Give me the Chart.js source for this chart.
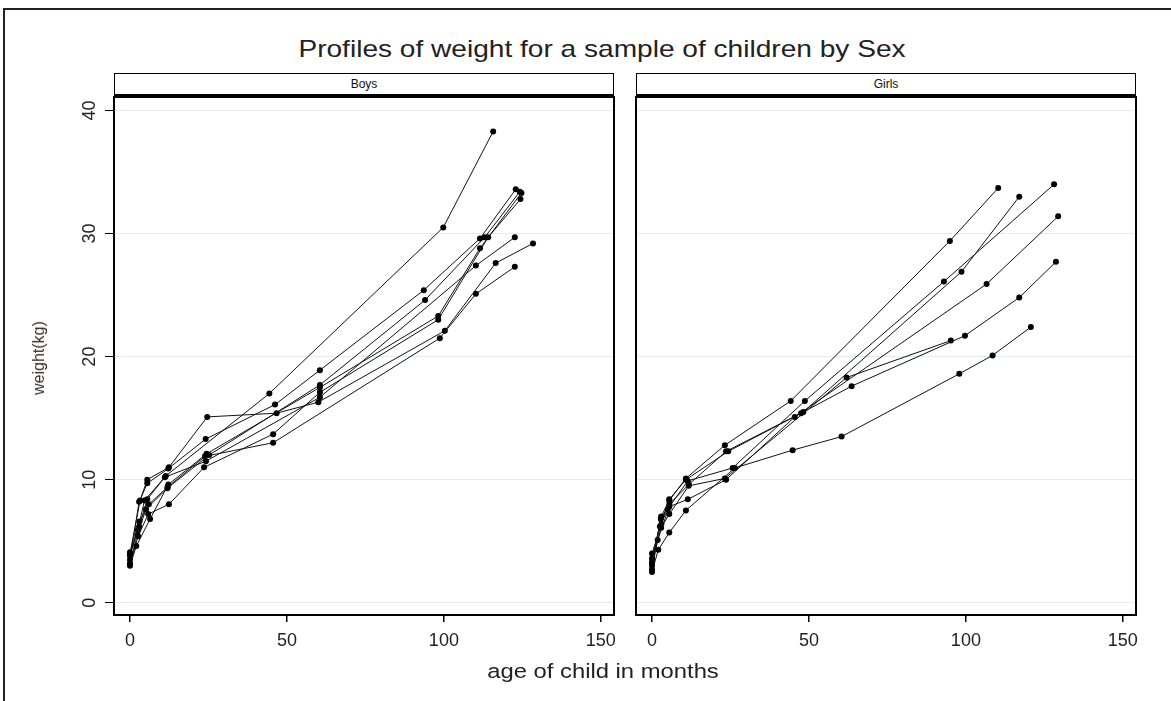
<!DOCTYPE html>
<html>
<head>
<meta charset="utf-8">
<title>Profiles of weight</title>
<script src="https://cdn.jsdelivr.net/npm/chart.js@4.4.1/dist/chart.umd.min.js"></script>
<style>
  body { margin: 0; background: #fff; font-family: "Liberation Sans", Arial, sans-serif; }
  #page { position: relative; width: 1171px; height: 701px; overflow: hidden; }
  #frame { position: absolute; left: 3px; top: 8px; width: 1300px; height: 800px;
           border-left: 2px solid #222; border-top: 2px solid #222; }
  #title { position: absolute; left: 0; width: 1204px; top: 35px; text-align: center;
           font-size: 24px; color: #222; transform: scaleX(1.17); }
  .strip { position: absolute; top: 73px; height: 25px; box-sizing: border-box;
           border: 1.5px solid #000; border-bottom: 4px solid #000;
           font-size: 12px; line-height: 21px; text-align: center; color: #111; }
  #xlab { position: absolute; left: 0; width: 1206px; top: 660px; text-align: center;
          font-size: 20px; color: #222; transform: scaleX(1.19); }
  #ylab { position: absolute; left: 39px; top: 358px; font-size: 16px; color: #3a2e2e;
          transform: translate(-50%, -50%) rotate(-90deg); white-space: nowrap; }
  canvas { position: absolute; }
</style>
</head>
<body>
<div id="page">
  <div id="frame"></div>
  <div id="title">Profiles of weight for a sample of children by Sex</div>
  <div class="strip" style="left:114px;width:500px">Boys</div>
  <div class="strip" style="left:636px;width:500px">Girls</div>
  <canvas id="boys" width="620" height="611" style="left:0;top:90px"></canvas>
  <canvas id="girls" width="549" height="611" style="left:622px;top:90px"></canvas>
  <div id="xlab">age of child in months</div>
  <div id="ylab">weight(kg)</div>
</div>
<script>
// ages (months) and weights (kg) per child, one inner array per child
const boyAges = [
  [0, 2.9, 5.5, 11.4, 44.4, 99.8, 115.7],
  [0, 3.2, 5.5, 12.4, 24.6, 46.7, 60.0, 100.3, 116.5, 128.4],
  [0, 2.9, 5.5, 12.2, 24.1, 46.2, 60.5, 93.6, 111.5, 122.9],
  [0, 2.3, 5.1, 11.9, 25.2, 60.5, 94.0, 113.0, 124.2],
  [0, 2.0, 6.4, 12.2, 24.4, 60.5, 98.2, 111.5, 124.7],
  [0, 2.6, 5.8, 12.4, 23.6, 45.6, 60.5, 98.2, 114.1, 124.4],
  [0, 3.0, 6.0, 12.0, 23.9, 45.6, 98.7, 110.2, 122.6],
  [0, 2.5, 4.6, 11.1, 24.2, 60.5, 110.2, 122.6]
];
const boyWeights = [
  [3.9, 6.2, 8.4, 10.3, 17.0, 30.5, 38.3],
  [4.0, 8.3, 10.0, 11.0, 15.1, 15.4, 16.3, 22.1, 27.6, 29.2],
  [3.5, 8.2, 9.7, 10.9, 13.3, 16.1, 18.9, 25.4, 29.6, 33.6],
  [3.2, 5.5, 7.6, 9.3, 12.0, 17.7, 24.6, 29.7, 33.4],
  [3.0, 4.6, 6.8, 9.6, 12.1, 17.5, 23.3, 28.8, 33.3],
  [3.1, 5.4, 7.2, 8.0, 11.0, 13.7, 17.1, 23.0, 29.7, 32.8],
  [3.8, 6.6, 8.0, 9.4, 11.9, 13.0, 21.5, 25.1, 27.3],
  [4.1, 5.9, 8.3, 10.2, 11.5, 16.7, 27.4, 29.7]
];
const girlAges = [
  [0, 2.9, 5.5, 10.8, 23.2, 44.2, 94.9, 110.3],
  [0, 2.8, 5.5, 11.7, 23.6, 48.2, 98.6, 117.0],
  [0, 2.5, 5.0, 11.4, 25.7, 48.7, 93.0, 128.1],
  [0, 1.8, 5.5, 11.4, 23.6, 45.5, 106.6, 129.4],
  [0, 3.0, 5.5, 10.8, 24.3, 47.5, 63.6, 99.7, 117.0, 128.7],
  [0, 2.0, 5.5, 10.8, 26.4, 44.8, 60.4, 97.9, 108.5, 120.7],
  [0, 2.9, 5.5, 11.7, 23.2, 62.0, 95.2]
];
const girlWeights = [
  [3.2, 7.0, 8.3, 10.1, 12.8, 16.4, 29.4, 33.7],
  [3.0, 6.8, 8.0, 9.6, 12.3, 15.5, 26.9, 33.0],
  [3.6, 6.2, 7.6, 9.9, 10.95, 16.4, 26.1, 34.0],
  [2.7, 5.1, 7.8, 8.4, 10.0, 15.1, 25.9, 31.4],
  [4.0, 6.4, 8.4, 10.0, 12.3, 15.4, 17.6, 21.7, 24.8, 27.7],
  [2.5, 4.3, 5.7, 7.5, 10.95, 12.4, 13.5, 18.6, 20.1, 22.4],
  [3.3, 6.1, 7.2, 9.5, 10.1, 18.3, 21.3]
];
const xTicks = [0, 50, 100, 150];
const yTicks = [0, 10, 20, 30, 40];

Chart.defaults.font.family = '"Liberation Sans", Arial, sans-serif';

// black box round the plot region
const framePlugin = {
  id: 'frame',
  afterDraw(chart) {
    const { ctx, chartArea: a } = chart;
    ctx.save();
    ctx.strokeStyle = '#000';
    ctx.lineWidth = 2;
    ctx.strokeRect(a.left, a.top, a.right - a.left, a.bottom - a.top);
    ctx.restore();
  }
};

function makeDatasets(ages, weights) {
  return ages.map((a, i) => ({
    data: a.map((x, j) => ({ x: x, y: weights[i][j] })),
    borderColor: '#111',
    borderWidth: 1,
    pointRadius: 3,
    pointBackgroundColor: '#000',
    pointBorderWidth: 0,
    tension: 0
  }));
}

// fixed axis sizes so both panels line up
function fixX(s) {
  s.height = 86;
  s.paddingLeft = 0;
  s.paddingRight = 0;
}

function makePanel(id, ages, weights, withYAxis, padding) {
  return new Chart(document.getElementById(id), {
    type: 'line',
    data: { datasets: makeDatasets(ages, weights) },
    options: {
      responsive: false,
      animation: false,
      devicePixelRatio: 1,
      layout: { padding: padding },
      plugins: { legend: { display: false }, tooltip: { enabled: false } },
      scales: {
        x: {
          type: 'linear',
          min: -5.1,
          max: 154.2,
          afterBuildTicks: s => { s.ticks = xTicks.map(v => ({ value: v })); },
          afterFit: fixX,
          border: { display: false },
          grid: { drawOnChartArea: false, drawTicks: true, tickLength: 7, tickColor: '#000', lineWidth: 1.5 },
          ticks: { font: { size: 18 }, color: '#222', padding: 8, maxRotation: 0 }
        },
        y: {
          type: 'linear',
          min: -1,
          max: 41.1,
          afterBuildTicks: s => { s.ticks = yTicks.map(v => ({ value: v })); },
          afterFit: s => {
            s.width = withYAxis ? 114 : 0;
            s.paddingTop = 0;
            s.paddingBottom = 0;
          },
          border: { display: false },
          grid: { color: '#e3ebee', lineWidth: 1, drawTicks: withYAxis, tickLength: 9, tickColor: '#000' },
          ticks: {
            display: withYAxis,
            font: { size: 18 },
            color: '#222',
            minRotation: 90,
            maxRotation: 90,
            crossAlign: 'center',
            padding: 5
          }
        }
      }
    },
    plugins: [framePlugin]
  });
}

makePanel('boys', boyAges, boyWeights, true, { left: 0, top: 7, right: 6, bottom: 0 });
makePanel('girls', girlAges, girlWeights, false, { left: 14, top: 7, right: 35, bottom: 0 });
</script>
</body>
</html>
